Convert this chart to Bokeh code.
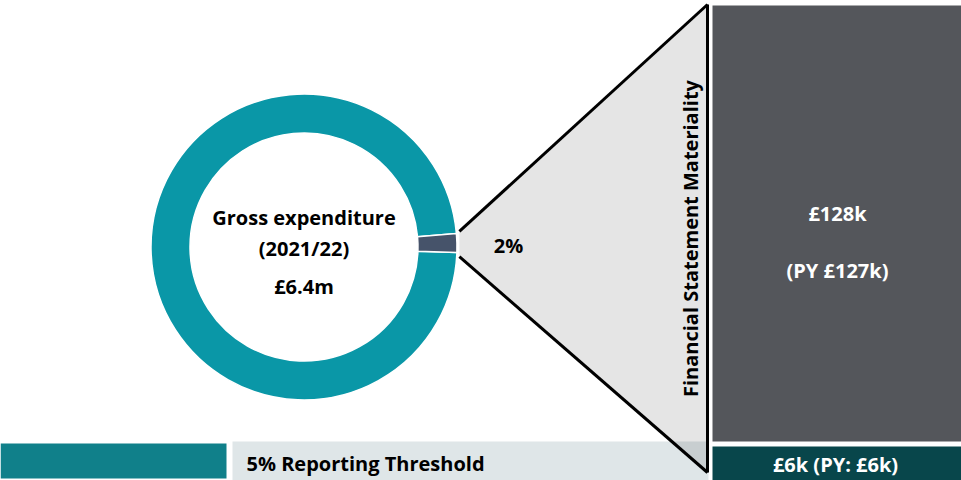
import numpy as np
from bokeh.plotting import figure
from bokeh.models import Range1d, ColumnDataSource
from bokeh.core.properties import value
from bokeh.embed import file_html
from bokeh.resources import INLINE

# ---- data ----
segments = ["Other expenditure", "Materiality"]
shares = [98, 2]                      # percent of gross expenditure
segment_colors = ["#0a97a7", "#46536a"]
gross_title = ["Gross expenditure", "(2021/22)", "£6.4m"]
materiality_label = "2%"
materiality_k = 128
materiality_py_k = 127
threshold_pct = 5
threshold_k = 6
threshold_py_k = 6

FONT = value("Open Sans")
FS = "20px"

W, H = 961, 480
p = figure(width=W, height=H, output_backend="svg", toolbar_location=None,
           x_range=Range1d(0, 961), y_range=Range1d(0, 480), min_border=0)
p.axis.visible = False
p.grid.visible = False
p.outline_line_color = None
p.background_fill_color = "white"

def Y(img_y):
    return 480 - img_y

# ---- bottom left bar and threshold band ----
p.quad(left=0, right=226, top=Y(443), bottom=Y(478), fill_color="#10808a", line_color=None)
p.quad(left=232, right=708, top=Y(441), bottom=Y(480), fill_color="#dfe6e8", line_color=None)

# ---- right-hand boxes ----
p.quad(left=712, right=961, top=Y(5), bottom=Y(441), fill_color="#54565b", line_color=None)
p.quad(left=712, right=961, top=Y(446), bottom=Y(480), fill_color="#08464b", line_color=None)

# ---- donut ----
cx, cy = 303.5, Y(246.5)
frac = np.array(shares, dtype=float) / sum(shares)
span = frac * 2 * np.pi
mid = np.deg2rad(1.5)
m_start = mid - span[1] / 2
m_end = mid + span[1] / 2
starts = [m_end, m_start]
ends = [m_start + 2 * np.pi, m_end]
src = ColumnDataSource(dict(x=[cx, cx], y=[cy, cy], start=starts, end=ends,
                            color=segment_colors, name=segments))
p.annular_wedge(x="x", y="y", inner_radius=114, outer_radius=153,
                start_angle="start", end_angle="end", fill_color="color",
                line_color="white", line_width=1.5, source=src)

# ---- zoom triangle ----
ax = cx + 153 * np.cos(m_end) + 3
ay_top = cy + 153 * np.sin(m_end) + 2
ay_bot = cy + 153 * np.sin(m_start) - 4
tri_x = [ax, 707, 707, ax]
tri_y = [ay_top, Y(4), Y(472), ay_bot]
p.patch(tri_x, tri_y, fill_color="black", fill_alpha=0.1, line_color=None)
p.line([ax, 707], [ay_top, Y(4)], line_color="black", line_width=3)
p.line([ax, 707], [ay_bot, Y(472)], line_color="black", line_width=3)
p.line([707, 707], [Y(4), Y(472)], line_color="black", line_width=3)

# ---- texts ----
common = dict(text_font=FONT, text_font_style="bold", text_align="center",
              text_baseline="middle")
p.text(x=[cx] * 3, y=[Y(217), Y(248), Y(286)], text=gross_title,
       text_font_size=FS, text_color="black", **common)
p.text(x=[508], y=[Y(245)], text=[materiality_label], text_font_size=FS,
       text_color="black", **common)
p.text(x=[690], y=[Y(238)], text=["Financial Statement Materiality"], angle=np.pi / 2,
       text_font_size=FS, text_color="black", **common)
p.text(x=[837, 837], y=[Y(213), Y(270)],
       text=[f"£{materiality_k}k", f"(PY £{materiality_py_k}k)"],
       text_font_size=FS, text_color="white", **common)
p.text(x=[835], y=[Y(464)], text=[f"£{threshold_k}k (PY: £{threshold_py_k}k)"],
       text_font_size=FS, text_color="white", **common)
p.text(x=[246], y=[Y(463)], text=[f"{threshold_pct}% Reporting Threshold"],
       text_font=FONT, text_font_style="bold", text_align="left", text_baseline="middle",
       text_font_size=FS, text_color="black")

open("out.html", "w").write(file_html(p, INLINE))
